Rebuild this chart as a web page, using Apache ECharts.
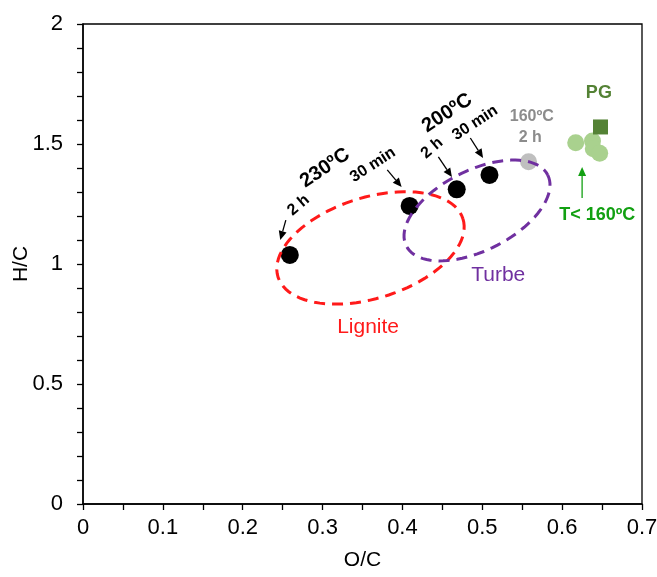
<!DOCTYPE html>
<html>
<head>
<meta charset="utf-8" />
<title>H/C vs O/C</title>
<style>
  html, body { margin: 0; padding: 0; background: #fff; }
  #main { width: 657px; height: 577px; }
</style>
</head>
<body>
<div id="main"></div>
<script src="https://cdn.jsdelivr.net/npm/echarts@6/dist/echarts.min.js"></script>
<script>
// hydrochar samples (black), 160 C run (grey), low temperature runs (light green), raw PG (square)
const ocChar = [0.259, 0.409, 0.468, 0.509];
const hcChar = [1.038, 1.242, 1.311, 1.371];
const oc160 = [0.558];
const hc160 = [1.426];
const ocLowT = [0.617, 0.638, 0.639, 0.647];
const hcLowT = [1.505, 1.512, 1.48, 1.461];
const ocPG = [0.648];
const hcPG = [1.571];

// coal regions: centre (O/C, H/C) and two conjugate half-axes in data units
const ellipseColors = ['#ff1a1a', '#7030a0'];
const ellipses = [
  [0.360, 1.067, 0.1158, 0.1212, 0.0189, -0.2004],
  [0.4934, 1.223, 0.0886, 0.1475, 0.0225, -0.1497]
];

// annotations: [O/C, H/C, angle]
const notes = [
  { at: [0.303, 1.40, 34], text: '230ºC', font: 'bold 20px', color: '#000' },
  { at: [0.270, 1.245, 40], text: '2 h', font: 'bold 16px', color: '#000' },
  { at: [0.363, 1.413, 33], text: '30 min', font: 'bold 16px', color: '#000' },
  { at: [0.456, 1.629, 33], text: '200ºC', font: 'bold 20px', color: '#000' },
  { at: [0.437, 1.483, 40], text: '2 h', font: 'bold 16px', color: '#000' },
  { at: [0.491, 1.588, 33], text: '30 min', font: 'bold 16px', color: '#000' },
  { at: [0.562, 1.613, 0], text: '160ºC', font: 'bold 16px', color: '#8c8c8c' },
  { at: [0.560, 1.525, 0], text: '2 h', font: 'bold 16px', color: '#8c8c8c' },
  { at: [0.646, 1.712, 0], text: 'PG', font: 'bold 18px', color: '#548235' },
  { at: [0.644, 1.204, 0], text: 'T< 160ºC', font: 'bold 18px', color: '#12a012' },
  { at: [0.357, 0.737, 0], text: 'Lignite', font: '21px', color: '#ff1a1a' },
  { at: [0.520, 0.954, 0], text: 'Turbe', font: '21px', color: '#7030a0' }
];

// arrows: [from O/C, from H/C, to O/C, to H/C]
const arrowColors = ['#000', '#000', '#000', '#000', '#12a012'];
const arrows = [
  [0.254, 1.183, 0.247, 1.100],
  [0.381, 1.392, 0.399, 1.321],
  [0.445, 1.446, 0.462, 1.362],
  [0.485, 1.525, 0.501, 1.442],
  [0.625, 1.275, 0.625, 1.404]
];

const FONT = 'Liberation Sans, Arial, sans-serif';

function zip(xs, ys) {
  return xs.map(function (x, i) { return [x, ys[i]]; });
}

function renderEllipse(params, api) {
  const cx = api.value(0), cy = api.value(1);
  const ax = api.value(2), ay = api.value(3);
  const bx = api.value(4), by = api.value(5);
  const pts = [];
  for (let i = 0; i <= 90; i++) {
    const t = i / 90 * Math.PI * 2;
    pts.push(api.coord([cx + ax * Math.cos(t) + bx * Math.sin(t), cy + ay * Math.cos(t) + by * Math.sin(t)]));
  }
  return {
    type: 'polyline',
    shape: { points: pts },
    style: { stroke: ellipseColors[params.dataIndex], lineWidth: 3, lineDash: [11, 7], fill: null }
  };
}

function renderArrow(params, api) {
  const p1 = api.coord([api.value(0), api.value(1)]);
  const p2 = api.coord([api.value(2), api.value(3)]);
  const dx = p2[0] - p1[0], dy = p2[1] - p1[1];
  const len = Math.sqrt(dx * dx + dy * dy);
  const ux = dx / len, uy = dy / len;
  const head = 9, half = 4;
  const bx = p2[0] - ux * head, by = p2[1] - uy * head;
  const color = arrowColors[params.dataIndex];
  return {
    type: 'group',
    children: [
      { type: 'line', shape: { x1: p1[0], y1: p1[1], x2: bx, y2: by }, style: { stroke: color, lineWidth: 1.3 } },
      {
        type: 'polygon',
        shape: { points: [p2, [bx - uy * half, by + ux * half], [bx + uy * half, by - ux * half]] },
        style: { fill: color }
      }
    ]
  };
}

function renderNote(params, api) {
  const n = notes[params.dataIndex];
  const p = api.coord([api.value(0), api.value(1)]);
  return {
    type: 'text',
    x: p[0],
    y: p[1],
    rotation: api.value(2) * Math.PI / 180,
    style: {
      text: n.text,
      font: n.font + ' ' + FONT,
      fill: n.color,
      align: 'center',
      verticalAlign: 'middle'
    }
  };
}

const chart = echarts.init(document.getElementById('main'));
chart.setOption({
  animation: false,
  backgroundColor: '#fff',
  textStyle: { fontFamily: FONT },
  grid: {
    left: 83, right: 15, top: 24, bottom: 73,
    show: true, borderColor: '#000', borderWidth: 1.3,
    outerBoundsMode: 'none'
  },
  xAxis: {
    type: 'value', min: 0, max: 0.7, interval: 0.1,
    name: 'O/C', nameLocation: 'middle', nameGap: 46, nameMoveOverlap: false,
    nameTextStyle: { fontSize: 21, color: '#000' },
    axisLine: { lineStyle: { color: '#000', width: 1.5 } },
    axisTick: { inside: false, length: 6, lineStyle: { color: '#000', width: 1.3 } },
    minorTick: { show: true, splitNumber: 2, length: 6, lineStyle: { color: '#000', width: 1.3 } },
    splitLine: { show: false },
    axisLabel: { fontSize: 22, color: '#000', margin: 13 }
  },
  yAxis: {
    type: 'value', min: 0, max: 2, interval: 0.5,
    name: 'H/C', nameLocation: 'middle', nameGap: 51, nameRotate: 90, nameMoveOverlap: false,
    nameTextStyle: { fontSize: 21, color: '#000' },
    axisLine: { lineStyle: { color: '#000', width: 1.5 } },
    axisTick: { inside: false, length: 6, lineStyle: { color: '#000', width: 1.3 } },
    minorTick: { show: true, splitNumber: 5, length: 6, lineStyle: { color: '#000', width: 1.3 } },
    splitLine: { show: false },
    axisLabel: { fontSize: 22, color: '#000', margin: 20 }
  },
  series: [
    {
      type: 'scatter', data: zip(ocLowT, hcLowT),
      symbol: 'circle', symbolSize: 17, itemStyle: { color: '#a9d18e', opacity: 1 }
    },
    {
      type: 'scatter', data: zip(ocPG, hcPG),
      symbol: 'rect', symbolSize: 15, itemStyle: { color: '#548235', opacity: 1 }
    },
    {
      type: 'scatter', data: zip(oc160, hc160),
      symbol: 'circle', symbolSize: 17, itemStyle: { color: '#bfbfbf', opacity: 1 }
    },
    {
      type: 'scatter', data: zip(ocChar, hcChar),
      symbol: 'circle', symbolSize: 18, itemStyle: { color: '#000', opacity: 1 }
    },
    {
      type: 'custom', renderItem: renderEllipse, data: ellipses,
      encode: { x: 0, y: 1 }, clip: false, silent: true, z: 5
    },
    {
      type: 'custom', renderItem: renderArrow, data: arrows,
      encode: { x: [0, 2], y: [1, 3] }, clip: false, silent: true, z: 6
    },
    {
      type: 'custom', renderItem: renderNote, data: notes.map(function (n) { return n.at; }),
      encode: { x: 0, y: 1 }, clip: false, silent: true, z: 7
    }
  ]
});
</script>
</body>
</html>
